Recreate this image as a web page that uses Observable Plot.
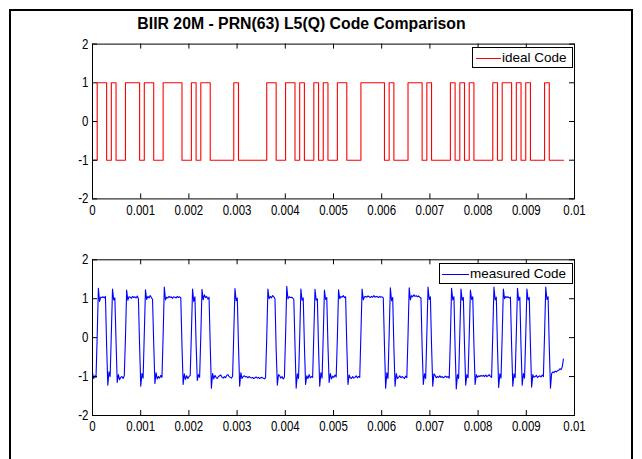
<!DOCTYPE html>
<html><head><meta charset="utf-8">
<script src="https://cdn.jsdelivr.net/npm/d3@7"></script>
<script src="https://cdn.jsdelivr.net/npm/@observablehq/plot@0.6"></script>
<style>
body{margin:0;background:#fff;width:642px;height:459px;overflow:hidden;position:relative;font-family:"Liberation Sans",Arial,sans-serif}
#frame{position:absolute;left:9px;top:9px;width:620px;height:480px;border:2px solid #000}
#title{position:absolute;left:0;width:603px;top:14px;line-height:19px;text-align:center;font-weight:bold;font-size:15.8px;white-space:nowrap}
.plot{position:absolute;left:0}
.legend{position:absolute;border:1px solid #000;background:#fff;box-sizing:border-box}
.legend .sw{position:absolute;height:0;border-top:1px solid}
.legend .lbl{position:absolute;font-size:13.5px;line-height:16px;white-space:nowrap;color:#000}
</style>
</head><body>
<div id="frame"></div>
<div id="title"></div>
<script>
// ---- data ----
const titleText = "BIIR 20M - PRN(63) L5(Q) Code Comparison";
const chipPeriod = 0.0000977; // s per chip
const idealChips = [
 -1,1,1,-1,1,-1,-1,1,1,1,
 -1,1,1,-1,-1,1,1,1,1,-1,
 -1,1,-1,1,1,-1,-1,-1,-1,-1,
 1,-1,-1,-1,-1,-1,-1,1,1,-1,
 -1,1,1,-1,1,-1,-1,1,-1,1,
 -1,-1,1,1,-1,-1,-1,1,1,1,
 1,1,-1,1,-1,-1,-1,1,1,1,
 -1,1,-1,-1,-1,-1,1,-1,1,-1,
 1,-1,-1,-1,-1,1,-1,1,1,-1,
 1,-1,1,-1,-1,-1,1,-1,-1,-1
];
const measuredStep = chipPeriod / 4; // 4 samples per chip
const measuredValues = [
 -0.9,-1.05,-0.98,-1.02, 0.05,1.27,0.93,1.04, 1.03,1.05,1.02,1.06, -0.2,-1.22,-0.88,-1.0, 0.1,1.25,0.97,1.02,
 -0.1,-1.15,-0.95,-1.08, -1.02,-1.0,-1.05,-0.98, 0.0,1.22,0.96,1.05, 1.04,1.01,1.06,1.03, 1.05,1.02,1.07,1.0,
 -0.2,-1.25,-0.92,-1.04, 0.1,1.23,0.98,1.06, 1.02,1.08,1.03,0.98, -0.15,-1.18,-0.9,-1.06, -1.0,-1.04,-0.97,-1.02,
 0.05,1.3,0.97,1.04, 1.02,1.06,1.03,1.05, 1.01,1.05,1.04,1.02, 1.06,1.03,1.05,1.02, -0.2,-1.2,-0.93,-1.07,
 -0.98,-1.05,-1.0,-0.97, 0.1,1.25,0.93,1.05, -0.15,-1.1,-0.95,-1.02, 0.05,1.24,0.97,1.1, 1.03,1.06,0.99,1.04,
 -0.2,-1.3,-0.92,-1.06, -0.97,-1.02,-1.05,-1.0, -0.98,-0.96,-1.02,-1.04, -1.0,-1.03,-0.97,-0.95, -1.0,-1.02,-1.04,-0.99,
 0.1,1.26,0.95,1.02, -0.2,-1.25,-0.9,-1.05, -1.0,-0.98,-1.01,-1.0, -1.03,-1.0,-1.02,-1.04, -1.02,-1.05,-1.03,-1.01,
 -1.04,-1.02,-1.05,-1.03, -1.02,-1.04,-1.06,-1.03, 0.0,1.25,1.0,1.06, 1.02,1.08,1.05,1.0, -0.3,-1.22,-0.95,-0.98,
 -1.04,-1.0,-1.06,-1.02, 0.05,1.32,1.0,1.05, 1.03,1.04,1.02,0.98, -0.2,-1.3,-0.93,-1.05, 0.0,1.25,0.96,1.02,
 -0.2,-1.2,-0.98,-1.05, -0.95,-1.03,-1.0,-1.02, 0.1,1.24,0.96,1.0, -0.25,-1.25,-0.9,-1.04, 0.05,1.22,0.98,1.03,
 -0.2,-1.15,-0.92,-1.06, -0.99,-1.02,-0.96,-1.01, 0.0,1.23,1.0,1.06, 1.04,1.08,1.03,1.05, -0.2,-1.2,-0.96,-1.03,
 -1.05,-1.0,-1.04,-1.02, -0.98,-1.03,-1.0,-1.02, 0.1,1.25,0.97,1.05, 1.06,1.04,1.07,1.05, 1.03,1.06,1.04,1.08,
 1.04,1.06,1.05,1.03, 1.06,1.04,1.05,1.02, -0.2,-1.3,-0.9,-1.05, 0.1,1.28,0.95,1.03, -0.25,-1.25,-0.92,-1.05,
 -1.02,-0.98,-1.03,-1.0, -1.02,-1.05,-0.99,-1.03, 0.05,1.28,0.97,1.08, 1.05,1.1,1.06,1.08, 1.05,1.07,1.04,1.02,
 -0.25,-1.2,-0.93,-1.05, 0.1,1.3,0.98,1.05, -0.2,-1.25,-0.93,-0.97, -1.03,-1.0,-1.02,-0.98, -1.02,-1.0,-1.03,-1.01,
 -0.99,-1.02,-1.0,-1.04, 0.0,1.27,0.97,1.05, -0.25,-1.32,-0.95,-1.05, 0.1,1.25,0.96,1.03, -0.2,-1.22,-0.95,-1.03,
 0.05,1.22,0.98,1.05, -0.2,-1.2,-0.95,-1.02, -0.98,-1.0,-0.97,-0.99, -0.97,-1.0,-0.96,-1.0, -0.98,-0.95,-1.0,-1.02,
 0.1,1.3,0.97,1.04, -0.25,-1.28,-0.93,-1.04, 0.05,1.25,1.0,1.06, 1.03,1.05,1.02,1.04, -0.2,-1.25,-0.93,-1.03,
 0.1,1.27,0.96,1.04, -0.25,-1.22,-0.92,-1.04, 0.05,1.25,0.97,1.03, -0.2,-1.27,-0.95,-1.02, -1.0,-0.97,-1.02,-1.0,
 -0.98,-1.01,-0.96,-1.0, 0.1,1.3,0.98,1.05, -0.25,-1.3,-0.92,-0.88, -0.9,-0.86,-0.88,-0.85, -0.84,-0.8,-0.82,-0.75,
 -0.55
];
const xTicks = [0,0.001,0.002,0.003,0.004,0.005,0.006,0.007,0.008,0.009,0.01];
const xTickLabels = ["0","0.001","0.002","0.003","0.004","0.005","0.006","0.007","0.008","0.009","0.01"];
const yTicks = [-2,-1,0,1,2];
const yTickLabels = ["-2","-1","0","1","2"];
const legendLabels = ["ideal Code","measured Code"];
const seriesColors = ["#ff0000","#0000ff"];

// ---- build tables ----
const ideal = idealChips.map((v,i)=>({t:i*chipPeriod, v}));
ideal.push({t:idealChips.length*chipPeriod, v:idealChips[idealChips.length-1]});
const measured = measuredValues.map((v,i)=>({t:i*measuredStep, v}));

document.getElementById('title').textContent = titleText;

const xFmt = new Map(xTicks.map((d,i)=>[d,xTickLabels[i]]));
const yFmt = new Map(yTicks.map((d,i)=>[d,yTickLabels[i]]));

function codePlot(data, color, curve, h, mt, mb){
  const ml=92, mr=68, W=642;
  const fw=W-ml-mr, fh=h-mt-mb, tl=5;
  return Plot.plot({
    width:W, height:h, marginLeft:ml, marginRight:mr, marginTop:mt, marginBottom:mb,
    x:{domain:[0,0.01]}, y:{domain:[-2,2]},
    style:{background:"transparent", fontFamily:'"Liberation Sans", Arial, sans-serif', fontSize:"14px", color:"#000", overflow:"visible"},
    marks:[
      Plot.line(data,{x:"t", y:"v", stroke:color, strokeWidth:1.1, curve}),
      Plot.frame({stroke:"#000", strokeWidth:1}),
      Plot.tickX(xTicks,{x:d=>d, insetTop:fh-tl, stroke:"#000"}),
      Plot.tickX(xTicks,{x:d=>d, insetBottom:fh-tl, stroke:"#000"}),
      Plot.tickY(yTicks,{y:d=>d, insetRight:fw-tl, stroke:"#000"}),
      Plot.tickY(yTicks,{y:d=>d, insetLeft:fw-tl, stroke:"#000"}),
      Plot.axisX(xTicks,{anchor:"bottom", tickSize:0, tickPadding:6, tickFormat:d=>xFmt.get(d), label:null}),
      Plot.axisY(yTicks,{anchor:"left", tickSize:0, tickPadding:4, tickFormat:d=>yFmt.get(d), label:null})
    ]
  });
}

function narrowTicks(svg){
  svg.querySelectorAll('g[aria-label="x-axis tick label"] text, g[aria-label="y-axis tick label"] text').forEach(t=>{
    const tr = t.getAttribute('transform');
    if (tr) {
      t.setAttribute('transform', tr + ' scale(0.82,1)');
    } else {
      const x = +(t.getAttribute('x')||0), y = +(t.getAttribute('y')||0);
      t.removeAttribute('x'); t.removeAttribute('y');
      t.setAttribute('transform', `translate(${x},${y}) scale(0.82,1)`);
    }
  });
}

const p1 = codePlot(ideal, seriesColors[0], "step-after", 230, 43.6, 31.6);
p1.classList.add('plot'); p1.style.top='0px';
document.body.appendChild(p1); narrowTicks(p1);
const p2 = codePlot(measured, seriesColors[1], "linear", 229, 29.3, 44);
p2.classList.add('plot'); p2.style.top='230px';
document.body.appendChild(p2); narrowTicks(p2);

function legend(label,color,box,sw,tx,ty){
  const d=document.createElement('div'); d.className='legend';
  Object.assign(d.style,{left:box[0]+'px',top:box[1]+'px',width:box[2]+'px',height:box[3]+'px'});
  const s=document.createElement('div'); s.className='sw';
  Object.assign(s.style,{left:sw[0]+'px',width:sw[1]+'px',top:sw[2]+'px',borderColor:color});
  const t=document.createElement('div'); t.className='lbl'; t.textContent=label;
  Object.assign(t.style,{left:tx+'px',top:ty+'px'});
  d.appendChild(s); d.appendChild(t); document.body.appendChild(d);
}
legend(legendLabels[0], seriesColors[0], [472,47,101,21], [3,25,10], 29, 1.5);
legend(legendLabels[1], seriesColors[1], [439,263,134,21], [2,27,10], 30, 1.5);
</script>
</body></html>
